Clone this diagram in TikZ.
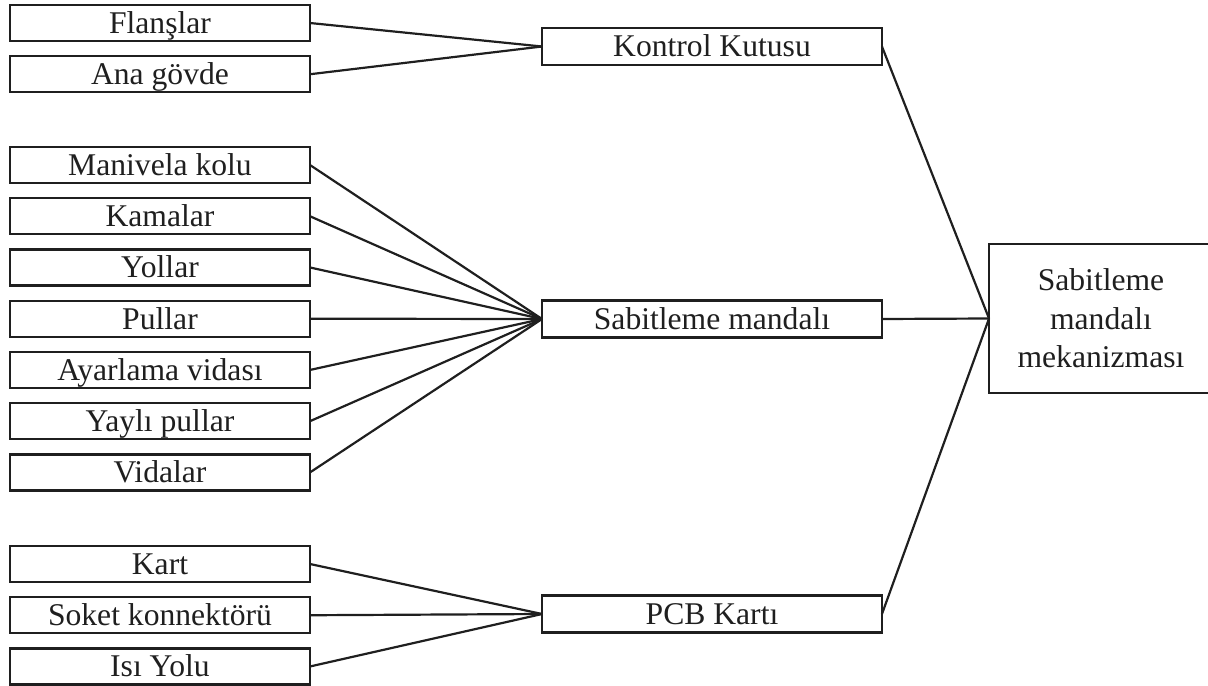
\documentclass[tikz,border=0pt]{standalone}
\usepackage{fontspec}
\setmainfont{Liberation Serif}
\usetikzlibrary{positioning}

\begin{document}
\begin{tikzpicture}[
				x=0.02cm, y=-0.02cm,
				line width=1.25pt,
				color=black!88,
				node distance=0.305cm,
				every node/.style={font=\fontsize{18}{22}\selectfont, inner sep=1pt, outer sep=0pt},
				part/.style={draw, minimum width=6cm, minimum height=0.72cm, text height=11.9pt, text depth=0pt},
				group/.style={draw, minimum width=6.8cm, minimum height=0.74cm, text height=11.9pt, text depth=0pt},
				total/.style={draw, minimum width=4.48cm, minimum height=2.98cm, align=center}
			]
			\useasboundingbox (0,0) rectangle (1208,686);
			
			\node [part] (flans) at (160,23) {Flanşlar};
			\node [part,below=of flans] (govde) {Ana gövde};
			
			\node [part] (kol) at (160,165) {Manivela kolu};
			\node [part,below=of kol] (kama) {Kamalar};
			\node [part,below=of kama] (yol) {Yollar};
			\node [part,below=of yol] (pul) {Pullar};
			\node [part,below=of pul] (ayar) {Ayarlama vidası};
			\node [part,below=of ayar] (yay) {Yaylı pullar};
			\node [part,below=of yay] (vida) {Vidalar};
			
			\node [part] (kart) at (160,564) {Kart};
			\node [part,below=of kart] (soket) {Soket konnektörü};
			\node [part,below=of soket] (isi) {Isı Yolu};
			
			\node [group] (kutu) at (712,46.5) {Kontrol Kutusu};
			\node [group] (mandal) at (712,319) {Sabitleme mandalı};
			\node [group] (pcb) at (712,614) {PCB Kartı};
			
			\node [total] (mekanizma) at (1101,318.5) {Sabitleme\\mandalı\\mekanizması};
			
			\draw (flans.east) -- (kutu.west);
			\draw (govde.east) -- (kutu.west);
			\foreach \p in {kol,kama,yol,pul,ayar,yay,vida}
				\draw (\p.east) -- (mandal.west);
			\draw (kart.east) -- (pcb.west);
			\draw (soket.east) -- (pcb.west);
			\draw (isi.east) -- (pcb.west);
			
			\draw (kutu.east) -- (mekanizma.west);
			\draw (mandal.east) -- (mekanizma.west);
			\draw (pcb.east) -- (mekanizma.west);
		\end{tikzpicture}
\end{document}
